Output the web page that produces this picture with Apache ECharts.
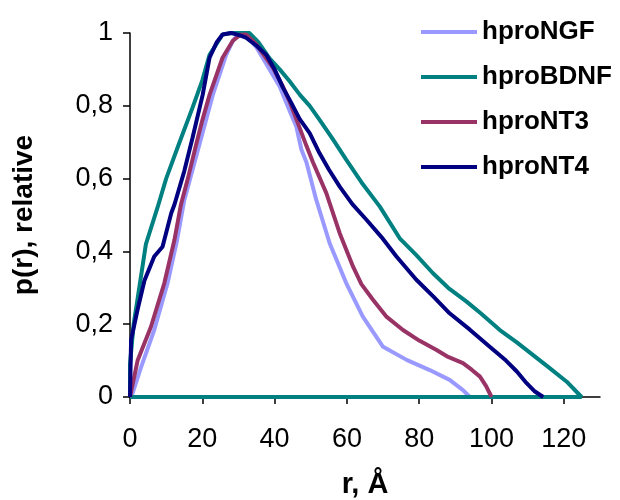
<!DOCTYPE html>
<html>
<head>
<meta charset="utf-8">
<script src="https://cdn.jsdelivr.net/npm/echarts@6/dist/echarts.min.js"></script>
<style>
  html, body { margin: 0; padding: 0; background: #fff; }
  #main { width: 620px; height: 500px; }
</style>
</head>
<body>
<div id="main"></div>
<script>
// [r (Å), p(r) relative]
const hproNGF = [[0,0],[0.7,0.01],[3,0.08],[6.7,0.184],[10.4,0.313],[13,0.43],[15,0.54],[19.2,0.694],[22.9,0.83],[26.6,0.94],[28.5,0.98],[30.5,1],[32.5,0.99],[35,0.96],[38,0.91],[41.4,0.853],[44,0.79],[46,0.743],[47.4,0.68],[48.8,0.645],[51.5,0.542],[55.2,0.423],[59.8,0.313],[64.4,0.221],[70,0.138],[76.5,0.102],[82.9,0.074],[88.4,0.047],[92.1,0.019],[94,0]];
const hproBDNF = [[0,0],[0,0.09],[1,0.2],[2.1,0.27],[4.4,0.42],[7.6,0.52],[10,0.6],[13.7,0.70],[17.3,0.795],[20,0.87],[22,0.94],[25.6,0.996],[28,1],[31,1],[33,1],[35.5,0.975],[38.6,0.93],[41.4,0.9],[44.1,0.868],[47,0.83],[49.7,0.8],[52.4,0.762],[56,0.71],[59.8,0.652],[64,0.59],[69.1,0.523],[74.6,0.436],[79.2,0.39],[83.8,0.34],[88,0.3],[93.1,0.262],[97,0.23],[102.3,0.184],[107,0.15],[111.5,0.115],[116,0.08],[120.8,0.042],[124.9,0],[0,0]];
const hproNT3 = [[0,0],[2.1,0.10],[5.8,0.193],[9.5,0.313],[12.3,0.432],[14.1,0.529],[16,0.6],[18.3,0.694],[20,0.76],[22,0.83],[25.6,0.932],[28.4,0.978],[30.5,0.995],[32.1,0.996],[34.9,0.969],[37,0.94],[39.5,0.905],[42.3,0.853],[44.1,0.813],[46.9,0.74],[48.8,0.69],[50.6,0.645],[54.3,0.56],[58,0.45],[61.7,0.358],[64,0.31],[67.2,0.267],[71,0.22],[75.5,0.184],[80,0.155],[84.8,0.129],[88,0.11],[92.1,0.093],[94.5,0.075],[96.8,0.056],[98.5,0.03],[100,0]];
const hproNT4 = [[0,0],[0.3,0.157],[2.1,0.24],[4,0.32],[6.7,0.386],[9,0.413],[11.4,0.505],[12.3,0.529],[15,0.62],[17.3,0.712],[20.1,0.83],[22,0.932],[24,0.975],[25.6,0.996],[28,1],[30,0.995],[32.1,0.987],[35,0.965],[37.7,0.94],[40,0.9],[42.3,0.85],[44.5,0.81],[46.9,0.764],[49.7,0.725],[52.4,0.67],[55,0.625],[58,0.578],[61.5,0.53],[65.4,0.487],[69.5,0.44],[73.7,0.386],[79.2,0.322],[84,0.275],[88.4,0.23],[94,0.185],[99.5,0.138],[104,0.1],[107,0.07],[109.7,0.038],[112,0.015],[114.3,0]];

const seriesNames = ['hproNGF', 'hproBDNF', 'hproNT3', 'hproNT4'];
const xTicks = [0, 20, 40, 60, 80, 100, 120];
const yTicks = [0, 0.2, 0.4, 0.6, 0.8, 1];

const colors = ['#9999FF', '#008080', '#993366', '#000080'];
const seriesData = [hproNGF, hproBDNF, hproNT3, hproNT4];

let chart = echarts.init(document.getElementById('main'));

let option = {
  animation: false,
  color: colors,
  legend: {
    orient: 'vertical',
    left: 421,
    top: 19,
    padding: 0,
    icon: 'rect',
    itemWidth: 56,
    itemHeight: 4,
    itemGap: 19,
    data: seriesNames,
    textStyle: {
      fontFamily: 'Liberation Sans',
      fontWeight: 'bold',
      fontSize: 26,
      lineHeight: 26,
      color: '#000'
    }
  },
  grid: {
    left: 130,
    top: 33,
    right: 20,
    bottom: 103,
    containLabel: false,
    outerBoundsMode: 'none'
  },
  xAxis: {
    type: 'value',
    min: 0,
    max: 130,
    interval: 20,
    name: 'r, Å',
    nameLocation: 'middle',
    nameGap: 73,
    nameTextStyle: {
      fontFamily: 'Liberation Sans',
      fontWeight: 'bold',
      fontSize: 29,
      color: '#000'
    },
    splitLine: { show: false },
    axisLine: { lineStyle: { color: '#000', width: 1.5 } },
    axisTick: {
      length: 7,
      customValues: xTicks,
      lineStyle: { color: '#000', width: 1.5 }
    },
    axisLabel: {
      customValues: xTicks,
      margin: 29,
      fontFamily: 'Liberation Sans',
      fontSize: 27,
      color: '#000'
    }
  },
  yAxis: {
    type: 'value',
    min: 0,
    max: 1,
    interval: 0.2,
    name: 'p(r), relative',
    nameLocation: 'middle',
    nameGap: 92,
    nameTextStyle: {
      fontFamily: 'Liberation Sans',
      fontWeight: 'bold',
      fontSize: 28,
      color: '#000'
    },
    splitLine: { show: false },
    axisLine: { show: true, lineStyle: { color: '#000', width: 1.5 } },
    axisTick: {
      show: true,
      length: 7,
      customValues: yTicks,
      lineStyle: { color: '#000', width: 1.5 }
    },
    axisLabel: {
      customValues: yTicks,
      margin: 17,
      fontFamily: 'Liberation Sans',
      fontSize: 27,
      color: '#000',
      formatter: function (v) { return String(v).replace('.', ','); }
    }
  },
  series: seriesNames.map(function (name, i) {
    return {
      name: name,
      type: 'line',
      showSymbol: false,
      symbol: 'none',
      lineStyle: { width: 4, color: colors[i] },
      data: seriesData[i]
    };
  })
};

chart.setOption(option);
</script>
</body>
</html>
